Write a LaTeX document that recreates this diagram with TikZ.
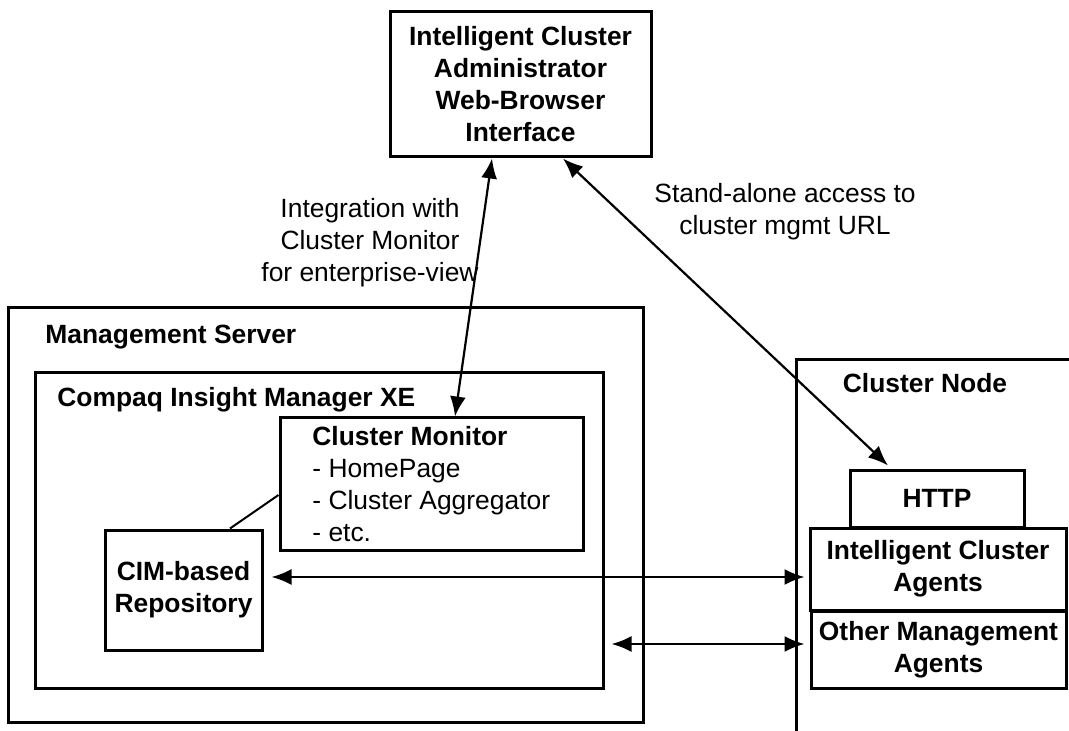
\documentclass[tikz,border=0pt]{standalone}
\usepackage{fontspec}
\setmainfont{Liberation Sans}
\usetikzlibrary{arrows.meta}
\begin{document}
\begin{tikzpicture}[x=0.5pt,y=-0.5pt,font=\fontsize{13.2}{16}\selectfont,
    box/.style={draw,line width=1.5pt,rectangle,inner sep=2pt,align=center,font=\fontsize{13.2}{16}\selectfont\bfseries},
    title/.style={font=\fontsize{13.2}{16}\selectfont\bfseries,inner sep=0pt},
    note/.style={align=center,inner sep=0pt},
    dbl/.style={{Latex[length=10pt,width=8pt]}-{Latex[length=10pt,width=8pt]},line width=1.1pt}]
                \useasboundingbox (0,0) rectangle (1069,731);
                \clip (0,0) rectangle (1069,731);

                \node[box,minimum width=130.5pt,minimum height=72.5pt] at (520.5,84.5) (wb) {Intelligent Cluster\\Administrator\\Web-Browser\\Interface};
                \node[box,minimum width=317.5pt,minimum height=207pt] at (325.5,515) (ms) {};
                \node[box,minimum width=284pt,minimum height=157.5pt] at (319,530.5) (cim) {};
                \node[box,minimum width=151.5pt,minimum height=66pt] at (431.5,484) (cm) {};
                \node[box,minimum width=78.5pt,minimum height=60pt] at (183.5,590) (repo) {CIM-based\\Repository};
                \node[box,minimum width=162pt,minimum height=210pt] at (958,570) (cn) {};
                \node[box,minimum width=87pt,minimum height=28.5pt] at (937,498.5) (http) {HTTP};
                \node[box,minimum width=128pt,minimum height=41pt] at (938,569) (ica) {Intelligent Cluster\\Agents};
                \node[box,minimum width=127.5pt,minimum height=38.5pt] at (938.5,649.5) (oma) {Other Management\\Agents};

                \node[title,anchor=west] at (45,337) (mslabel) {Management Server};
                \node[title,anchor=west] at (57,400) (cimlabel) {Compaq Insight Manager XE};
                \node[title] at (925,383) (cnlabel) {Cluster Node};
                \node[anchor=west,align=left,inner sep=0pt] at (312,484) (cmtext) {\bfseries Cluster Monitor\\- HomePage\\- Cluster Aggregator\\- etc.};

                \node[note] at (370,243) (integ) {Integration with\\Cluster Monitor\\for enterprise-view};
                \node[note] at (785,212) (stand) {Stand-alone access to\\cluster mgmt URL};

                \coordinate (omaend) at ([xshift=-2.5pt,yshift=2.75pt]oma.west);
                \coordinate (cimend) at (cim.east |- omaend);

                \draw[dbl] ([xshift=-14.25pt]wb.south) -- ([xshift=11.75pt]cm.north);
                \draw[dbl] ([xshift=21.25pt]wb.south) -- ([xshift=-24.5pt,yshift=1.5pt]http.north);
                \draw[dbl] ([xshift=4pt,yshift=6.5pt]repo.east) -- ([xshift=-2pt,yshift=-4pt]ica.west);
                \draw[dbl] ([xshift=3.5pt]cimend) -- (omaend);
                \draw[line width=1pt] ([xshift=23.25pt]repo.north) -- ([yshift=-5.5pt]cm.west);
            \end{tikzpicture}
\end{document}
